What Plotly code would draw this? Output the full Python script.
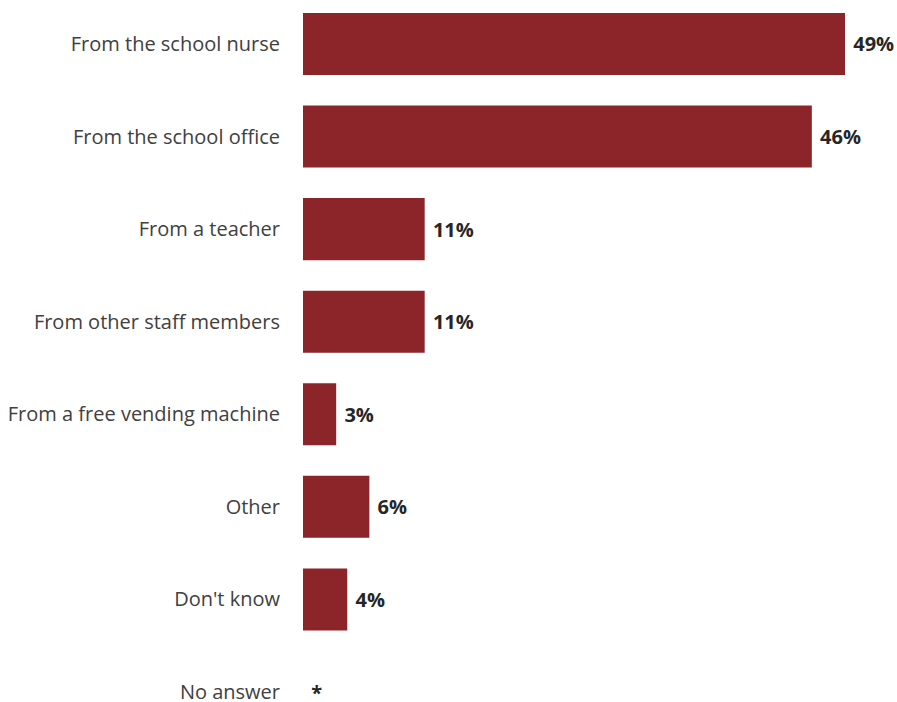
import plotly.graph_objects as go

categories = [
    "From the school nurse",
    "From the school office",
    "From a teacher",
    "From other staff members",
    "From a free vending machine",
    "Other",
    "Don't know",
    "No answer",
]
values = [49, 46, 11, 11, 3, 6, 4, 0]
value_labels = ["49%", "46%", "11%", "11%", "3%", "6%", "4%", "*"]

BAR_COLOR = "#8B252A"

fig = go.Figure(
    go.Bar(
        x=values,
        y=categories,
        orientation="h",
        marker=dict(color=BAR_COLOR, line=dict(width=0)),
        width=0.67,
        text=[" " + t for t in value_labels],
        textposition="outside",
        textfont=dict(family="Open Sans", size=20, color="#262626", weight="bold"),
        cliponaxis=False,
        hoverinfo="skip",
    )
)

fig.update_layout(
    width=897,
    height=702,
    margin=dict(l=303, r=0, t=0, b=0, autoexpand=False),
    paper_bgcolor="white",
    plot_bgcolor="white",
    showlegend=False,
    xaxis=dict(
        range=[0, 53.7],
        visible=False,
        automargin=False,
        fixedrange=True,
    ),
    yaxis=dict(
        range=[7.108, -0.475],
        showgrid=False,
        zeroline=False,
        showline=False,
        ticks="",
        automargin=False,
        ticklabelstandoff=22,
        tickfont=dict(family="Open Sans", size=20, color="#404040"),
        fixedrange=True,
    ),
)

fig.write_html("out.html")
